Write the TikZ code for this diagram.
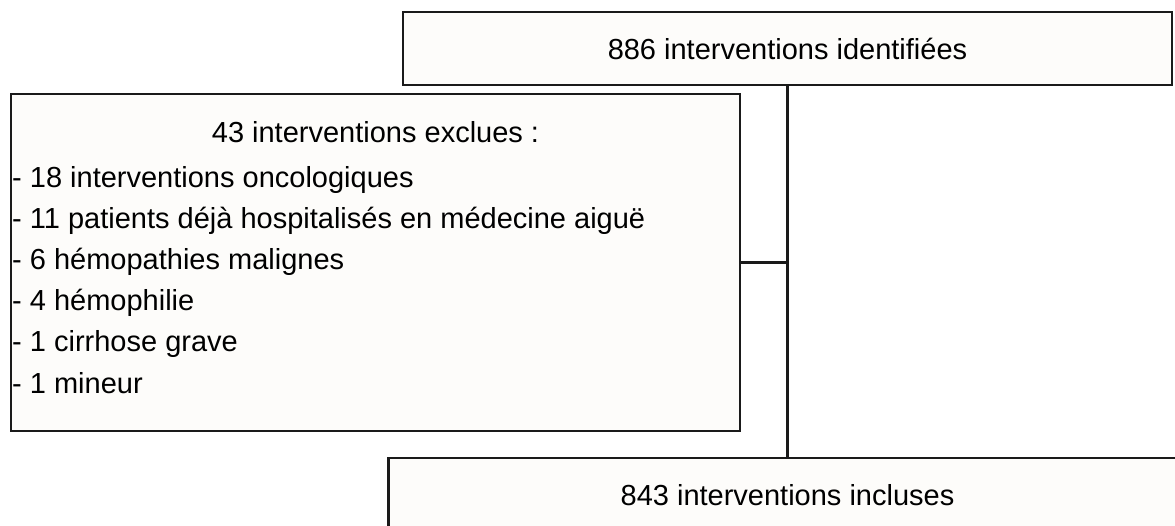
\documentclass[tikz,border=0pt]{standalone}
\usepackage{fontspec}
\setmainfont{Liberation Sans}
\definecolor{boxline}{HTML}{1A1A1A}
\definecolor{boxfill}{HTML}{FDFCFA}
\begin{document}
\begin{tikzpicture}[x=1pt,y=-1pt,
  box/.style={draw=boxline, fill=boxfill, line width=2.6pt, inner sep=0pt},
  conn/.style={draw=boxline, line width=2.6pt},
  txt/.style={inner sep=0pt, font=\fontsize{29}{41}\selectfont}]
\useasboundingbox (0,0) rectangle (1175,526);
\node[box, minimum width=769pt, minimum height=73pt] (top) at (787.5,48.5) {};
\node[txt] (toptext) at (top.center) {886 interventions identifiées};
\node[box, minimum width=729pt, minimum height=337pt] (left) at (375.5,262.5) {};
\node[box, minimum width=798pt, minimum height=76pt] (bot) at (787.5,496) {};
\node[txt, anchor=base] (bottext) at (787.5,505) {843 interventions incluses};
\node[txt, anchor=base] (title) at (375.5,143) {43 interventions exclues :};
\node[txt, anchor=base west] (l1) at (12,188) {- 18 interventions oncologiques};
\node[txt, anchor=base west] (l2) at (12,229) {- 11 patients déjà hospitalisés en médecine aiguë};
\node[txt, anchor=base west] (l3) at (12,270) {- 6 hémopathies malignes};
\node[txt, anchor=base west] (l4) at (12,311) {- 4 hémophilie};
\node[txt, anchor=base west] (l5) at (12,352) {- 1 cirrhose grave};
\node[txt, anchor=base west] (l6) at (12,393) {- 1 mineur};
\coordinate (j) at (left.east -| top.south);
\draw[conn] (top.south) -- (bot.north);
\draw[conn] (left.east) -- (j);
\end{tikzpicture}
\end{document}
